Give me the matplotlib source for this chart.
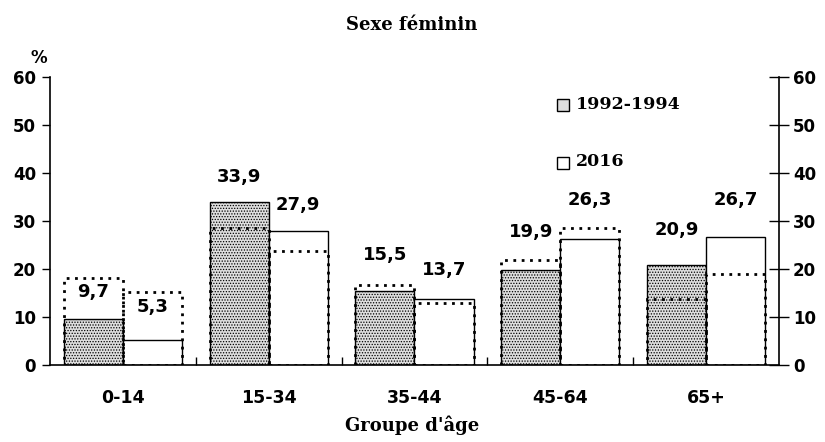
import numpy as np
import matplotlib.pyplot as plt

groups = ['0-14', '15-34', '35-44', '45-64', '65+']
fem_1992 = [9.7, 33.9, 15.5, 19.9, 20.9]
fem_2016 = [5.3, 27.9, 13.7, 26.3, 26.7]
# dotted outlines (comparison series)
ref_1992 = [18.2, 28.5, 16.6, 21.8, 13.8]
ref_2016 = [15.3, 23.8, 13.0, 28.5, 19.0]
labels_1992 = ['9,7', '33,9', '15,5', '19,9', '20,9']
labels_2016 = ['5,3', '27,9', '13,7', '26,3', '26,7']

# label heights, layout only
lab_y_1992 = [15.2, 39.2, 22.9, 27.7, 28.1]
lab_y_2016 = [12.0, 33.3, 19.8, 34.4, 34.4]

serif = 'DejaVu Serif'
sans = 'DejaVu Sans'

plt.rcParams['hatch.color'] = '#9a9a9a'
plt.rcParams['hatch.linewidth'] = 0.6

fig = plt.figure(figsize=(8.25, 4.42), dpi=100)
ax = fig.add_axes([0.0606, 0.174, 0.8836, 0.652])

x = np.arange(len(groups))
w = 0.405
ax.bar(x - w / 2, fem_1992, w, facecolor='#dedede', edgecolor='black', linewidth=1.0,
       hatch='......', zorder=2)
ax.bar(x + w / 2, fem_2016, w, facecolor='white', edgecolor='black', linewidth=1.0, zorder=2)
ax.bar(x - w / 2, ref_1992, w, facecolor='none', edgecolor='black', linewidth=2.0,
       linestyle=(0, (1, 2.0)), zorder=3)
ax.bar(x + w / 2, ref_2016, w, facecolor='none', edgecolor='black', linewidth=2.0,
       linestyle=(0, (1, 2.0)), zorder=3)

for i in range(len(groups)):
    ax.text(x[i] - w / 2, lab_y_1992[i], labels_1992[i], ha='center', va='center',
            fontsize=13, fontweight='bold', family=sans)
    ax.text(x[i] + w / 2, lab_y_2016[i], labels_2016[i], ha='center', va='center',
            fontsize=13, fontweight='bold', family=sans)

ax.set_xlim(-0.5, 4.5)
ax.set_ylim(0, 60)
ax.set_yticks(range(0, 61, 10))
ax.set_xticks(x)
ax.set_xticklabels(groups, fontsize=12.5, fontweight='bold', family=sans)
ax.set_xticks(np.arange(0.5, 4.5, 1), minor=True)
ax.tick_params(axis='x', which='major', length=0, pad=17)
ax.tick_params(axis='x', which='minor', direction='in', length=6, width=1)
ax.tick_params(axis='y', direction='out', length=6, labelsize=12, width=1,
               right=True, labelright=True, pad=4)
for lab in ax.get_yticklabels():
    lab.set_fontweight('bold')
    lab.set_family(sans)
ax.spines['top'].set_visible(False)
for s in ['left', 'right', 'bottom']:
    ax.spines[s].set_linewidth(1.2)

# right axis ticks cross the spine
for t in ax.yaxis.get_major_ticks():
    t.tick2line.set_marker('_')
    t.tick2line.set_markersize(14)

ax.text(-0.016, 1.066, '%', transform=ax.transAxes, fontsize=12, fontweight='bold',
        family=sans, ha='center', va='center')

fig.text(0.499, 0.943, 'Sexe féminin', ha='center', va='center', fontsize=13,
         fontweight='bold', family=serif)
fig.text(0.499, 0.038, "Groupe d'âge", ha='center', va='center', fontsize=13,
         fontweight='bold', family=serif)

# legend drawn as markers and texts
ax.plot([0.704], [0.903], marker='s', markersize=9, markerfacecolor='#dedede',
        markeredgecolor='black', transform=ax.transAxes, clip_on=False)
ax.text(0.722, 0.905, '1992-1994', transform=ax.transAxes, fontsize=12.5,
        family=serif, fontweight='bold', va='center', ha='left')
ax.plot([0.704], [0.70], marker='s', markersize=9, markerfacecolor='white',
        markeredgecolor='black', transform=ax.transAxes, clip_on=False)
ax.text(0.722, 0.705, '2016', transform=ax.transAxes, fontsize=12.5,
        family=serif, fontweight='bold', va='center', ha='left')

fig.savefig('out.png', dpi=100, facecolor='white')
